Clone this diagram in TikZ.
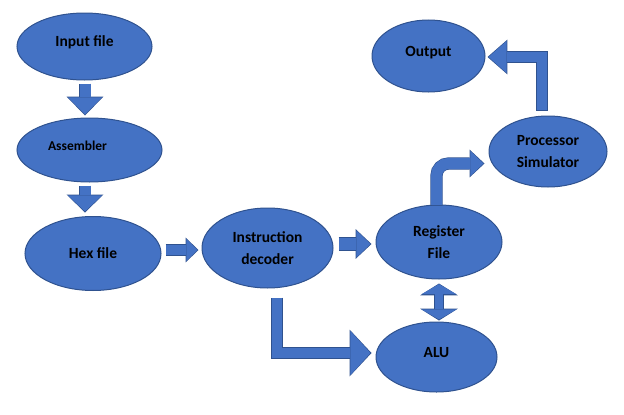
\documentclass[tikz,border=0pt]{standalone}
\usepackage{fontspec}
\setmainfont{Carlito}
\usetikzlibrary{shapes.geometric,arrows.meta,calc}
\definecolor{boxblue}{RGB}{68,114,196}
\definecolor{edgeblue}{RGB}{47,82,143}

% block arrow: outline pass, then fill pass
\newcommand{\blockarrow}[5][->]{%
  \pgfmathsetmacro\outshaft{#2+1.2}%
  \pgfmathsetmacro\outwidth{#3+2.6}%
  \pgfmathsetmacro\outlength{#4+1.8}%
  \draw[draw=edgeblue,line width=\outshaft pt,
    >={Triangle[width=\outwidth pt,length=\outlength pt,line width=0pt]},#1] #5;
  \draw[draw=boxblue,line width=#2pt,shorten <=0.7pt,shorten >=1.1pt,
    >={Triangle[width=#3pt,length=#4pt,line width=0pt]},#1] #5;
}

\begin{document}
\begin{tikzpicture}
	[x=1pt,y=-1pt,every node/.style={ellipse,draw=edgeblue,fill=boxblue,line width=1pt,inner sep=0pt,align=center,font=\bfseries\fontsize{15.5}{22}\selectfont},
	oneline/.style={text height=6pt,text depth=6pt}]
	\useasboundingbox (0,0) rectangle (624,415);

	\node (in) at (84.5,46.5) [oneline,minimum width=135pt,minimum height=67pt] {Input file};
	\node (asm) at (89.5,150) [oneline,minimum width=145pt,minimum height=64pt,font=\bfseries\fontsize{13.5}{16}\selectfont] {Assembler\hspace*{24pt}};
	\node (hex) at (93,253.5) [minimum width=136pt,minimum height=74pt] {Hex file};
	\node (id) at (267.5,248) [minimum width=131pt,minimum height=80pt] {Instruction\\decoder};
	\node (reg) at (439,242) [minimum width=126pt,minimum height=74pt] {Register\\File};
	\node (alu) at (436.5,357) [oneline,minimum width=121pt,minimum height=70pt] {ALU};
	\node (out) at (428.5,56) [oneline,minimum width=113pt,minimum height=72pt] {Output};
	\node (proc) at (548,151.5) [minimum width=118pt,minimum height=71pt] {Processor\\Simulator};

	\blockarrow{11}{34}{17}{($(in.south)+(0.5,3)$) -- ($(asm.north)+(-4.5,-2)$)}
	\blockarrow{11}{34}{16}{($(asm.south)+(-4.5,3)$) -- ($(hex.north)+(-8,-3.5)$)}
	\blockarrow{10}{22}{11}{($(hex.east)+(4,-3.5)$) -- ($(id.west)+(-3,2)$)}
	\blockarrow{12}{27}{14}{($(id.east)+(5,-4)$) -- ($(reg.west)+(-4,2)$)}
	\blockarrow{10}{44}{20}{($(id.south)+(9.5,9)$) |- ($(alu.west)+(-4,-4)$)}
	\blockarrow[<->]{8}{35}{10}{($(reg.south)+(0,4)$) -- ($(alu.north)+(2.5,-1)$)}
	\blockarrow[->,rounded corners=12pt]{11}{25}{13}{($(reg.north)+(-2.5,1)$) |- ($(proc.west)+(-4,12)$)}
	\blockarrow{10}{32}{18}{($(proc.north)+(-6,-5)$) |- ($(out.east)+(2,1)$)}
\end{tikzpicture}
\end{document}
